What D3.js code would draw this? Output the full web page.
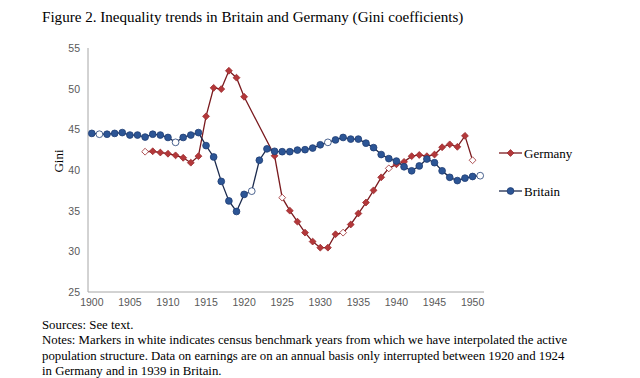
<!DOCTYPE html>
<html>
<head>
<meta charset="utf-8">
<script src="https://cdn.jsdelivr.net/npm/d3@7"></script>
<style>
  body { margin: 0; background: #fff; }
  svg { display: block; }
</style>
</head>
<body>
<div id="chart"></div>
<script>
(function () {

  // years on the category axis
  const years = d3.range(1900, 1952);
  const tickYears = [1900, 1905, 1910, 1915, 1920, 1925, 1930, 1935, 1940, 1945, 1950];
  const yTicks = [25, 30, 35, 40, 45, 50, 55];

  // Britain, 1900-1951
  const britainYears = d3.range(1900, 1952);
  const britainGini = [
    44.5, 44.4, 44.4, 44.5, 44.6, 44.3, 44.3, 44.05, 44.4, 44.3,
    44.0, 43.4, 44.0, 44.3, 44.6, 43.0, 41.6, 38.6, 36.2, 34.9,
    37.0, 37.4, 41.2, 42.6, 42.3, 42.25, 42.25, 42.45, 42.5, 42.7,
    43.1, 43.4, 43.7, 44.0, 43.8, 43.8, 43.3, 42.75, 41.9, 41.4,
    41.1, 40.4, 39.9, 40.5, 41.35, 40.9, 39.9, 39.1, 38.7, 39.0,
    39.2, 39.3
  ];
  const britainBenchmarks = [1901, 1911, 1921, 1931, 1951];

  // Germany, 1907-1950 (no data 1921-1923)
  const germanyYears = d3.range(1907, 1951);
  const germanyGini = [
    42.25, 42.3, 42.15, 42.0, 41.8, 41.5, 40.9, 41.7, 46.6, 50.1,
    49.95, 52.2, 51.35, 49.0, null, null, null, 41.75, 36.6, 35.0,
    33.65, 32.3, 31.2, 30.45, 30.45, 32.1, 32.3, 33.3, 34.65, 36.0,
    37.5, 39.1, 40.2, 40.7, 41.0, 41.7, 41.85, 41.7, 41.9, 42.8,
    43.15, 42.85, 44.2, 41.2
  ];
  const germanyBenchmarks = [1907, 1925, 1933, 1939, 1950];

  const width = 640, height = 378;
  const plot = {left: 88, right: 484, top: 48, bottom: 292};

  const svg = d3.select("#chart")
    .append("svg")
      .attr("width", width)
      .attr("height", height);

  // title
  svg.append("text")
      .attr("x", 42)
      .attr("y", 22)
      .style("font-family", "Liberation Serif, serif")
      .style("font-size", "15.1px")
      .style("fill", "#000")
      .text("Figure 2. Inequality trends in Britain and Germany (Gini coefficients)");

  // scales
  let x = d3.scaleBand()
      .domain(years)
      .range([plot.left, plot.right]);
  let xc = d => x(d) + x.bandwidth() / 2;

  let y = d3.scaleLinear()
      .domain([25, 55])
      .range([plot.bottom, plot.top]);

  // X axis
  let xAxis = svg.append("g")
      .attr("transform", "translate(0," + plot.bottom + ")")
      .call(d3.axisBottom(x).tickValues(tickYears).tickSize(0).tickPadding(7));
  xAxis.select(".domain").attr("stroke", "#a6a6a6").attr("d", "M" + plot.left + ",0H" + plot.right);

  // Y axis
  let yAxis = svg.append("g")
      .attr("transform", "translate(" + plot.left + ",0)")
      .call(d3.axisLeft(y).tickValues(yTicks).tickSize(0).tickPadding(8));
  yAxis.select(".domain").attr("stroke", "#a6a6a6").attr("d", "M0," + plot.top + "V" + plot.bottom);

  svg.selectAll(".tick text")
      .style("font-family", "Liberation Sans, sans-serif")
      .style("font-size", "10.5px")
      .style("fill", "#595959");

  // y label
  svg.append("text")
      .attr("transform", "translate(63,161) rotate(-90)")
      .attr("text-anchor", "middle")
      .style("font-family", "Liberation Serif, serif")
      .style("font-size", "13px")
      .text("Gini");

  // series data
  let britain = britainYears.map((yr, i) => ({year: yr, v: britainGini[i], open: britainBenchmarks.includes(yr)}));
  let germany = germanyYears.map((yr, i) => ({year: yr, v: germanyGini[i], open: germanyBenchmarks.includes(yr)}))
      .filter(d => d.v !== null);

  let line = d3.line()
      .x(d => xc(d.year))
      .y(d => y(d.v));

  const blueLine = "#1c2b4e", blueFill = "#2c5595", blueStroke = "#1f3d73";
  const redLine = "#7a1a1e", redFill = "#b3383a", redStroke = "#9a2a2d";

  svg.append("path")
      .datum(germany)
      .attr("d", line)
      .attr("fill", "none")
      .attr("stroke", redLine)
      .attr("stroke-width", 1.3);

  svg.append("path")
      .datum(britain)
      .attr("d", line)
      .attr("fill", "none")
      .attr("stroke", blueLine)
      .attr("stroke-width", 1.3);

  let diamond = d3.symbol().type(d3.symbolDiamond2).size(30);
  let circle = d3.symbol().type(d3.symbolCircle).size(36);

  svg.selectAll(".gm")
      .data(germany)
      .enter()
      .append("path")
        .attr("class", "gm")
        .attr("d", diamond)
        .attr("transform", d => "translate(" + xc(d.year) + "," + y(d.v) + ")")
        .attr("fill", d => d.open ? "#fff" : redFill)
        .attr("stroke", redStroke)
        .attr("stroke-width", 0.8);

  svg.selectAll(".bm")
      .data(britain)
      .enter()
      .append("path")
        .attr("class", "bm")
        .attr("d", circle)
        .attr("transform", d => "translate(" + xc(d.year) + "," + y(d.v) + ")")
        .attr("fill", d => d.open ? "#fff" : blueFill)
        .attr("stroke", blueStroke)
        .attr("stroke-width", 0.8);

  // legend
  let legend = [
    {name: "Germany", y: 153, line: redLine, fill: redFill, stroke: redStroke, sym: diamond},
    {name: "Britain", y: 191, line: blueLine, fill: blueFill, stroke: blueStroke, sym: circle}
  ];
  let lg = svg.selectAll(".lg")
      .data(legend)
      .enter()
      .append("g")
        .attr("transform", d => "translate(0," + d.y + ")");
  lg.append("line")
      .attr("x1", 499).attr("x2", 522)
      .attr("stroke", d => d.line)
      .attr("stroke-width", 1.3);
  lg.append("path")
      .attr("d", d => d.sym())
      .attr("transform", "translate(510.5,0)")
      .attr("fill", d => d.fill)
      .attr("stroke", d => d.stroke)
      .attr("stroke-width", 0.8);
  lg.append("text")
      .attr("x", 524)
      .attr("y", 4.5)
      .style("font-family", "Liberation Serif, serif")
      .style("font-size", "13px")
      .text(d => d.name);

  // notes
  const notes = [
    "Sources: See text.",
    "Notes: Markers in white indicates census benchmark years from which we have interpolated the active",
    "population structure. Data on earnings are on an annual basis only interrupted between 1920 and 1924",
    "in Germany and in 1939 in Britain."
  ];
  svg.selectAll(".note")
      .data(notes)
      .enter()
      .append("text")
        .attr("x", 42)
        .attr("y", (d, i) => 329 + i * 15.3)
        .style("font-family", "Liberation Serif, serif")
        .style("font-size", "12.8px")
        .text(d => d);

})();
</script>
</body>
</html>
